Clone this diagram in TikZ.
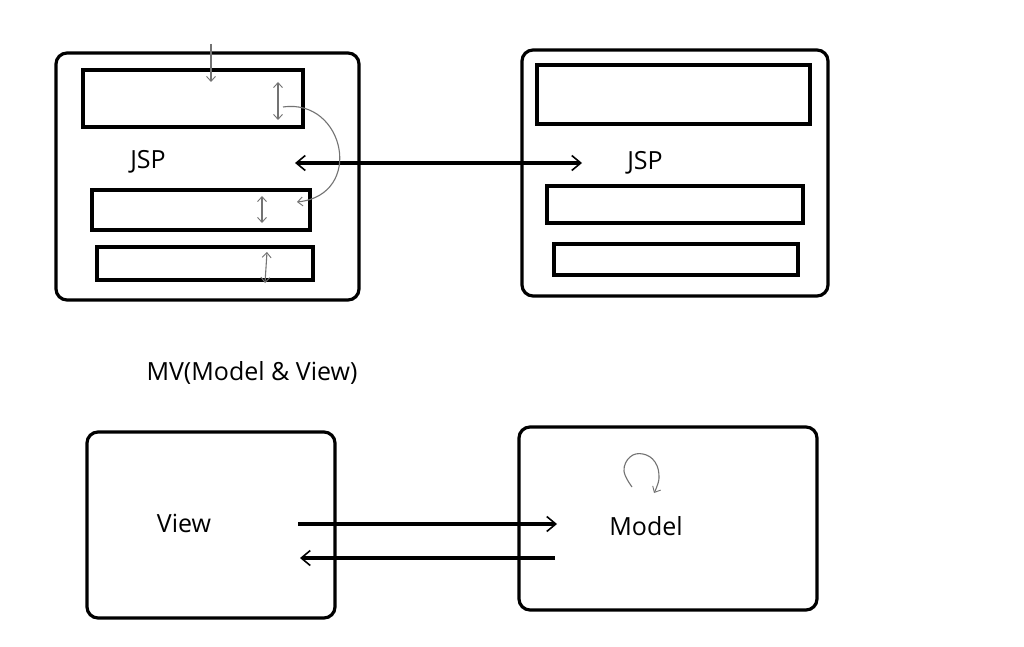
\documentclass[tikz,border=0pt]{standalone}
\usepackage{fontspec}
\setmainfont{Open Sans}
\usetikzlibrary{arrows.meta}
\tikzset{
  sk/.tip={Straight Barb[length=5pt,width=9pt,line width=0.9pt]},
  bg/.tip={Straight Barb[length=9pt,width=15pt,line width=1.6pt]},
  outerbox/.style={draw=black, line width=3.2pt, rounded corners=11pt, anchor=north west, inner sep=0pt, outer sep=0pt},
  innerbox/.style={draw=black, line width=3.8pt, anchor=north west, inner sep=0pt, outer sep=0pt},
  lbl/.style={font=\fontsize{25}{29}\selectfont, text=black},
  mainarrow/.style={line width=3.2pt, -bg},
  sketch/.style={draw=black!55, line width=1.1pt},
}
\begin{document}
\begin{tikzpicture}[x=1pt,y=-1pt]
\useasboundingbox[fill=white] (0,0) rectangle (1024,647);
% top left JSP
\node[outerbox, minimum width=303pt, minimum height=247pt] (jspL) at (56,53) {};
\node[innerbox, minimum width=220pt, minimum height=57pt] (l1) at (83,70) {};
\node[innerbox, minimum width=218pt, minimum height=40pt] (l2) at (92,190) {};
\node[innerbox, minimum width=216pt, minimum height=33pt] (l3) at (97,247) {};
\node[lbl] (jspLt) at (148,162) {JSP};
% top right JSP
\node[outerbox, minimum width=306pt, minimum height=246pt] (jspR) at (522,50) {};
\node[innerbox, minimum width=273pt, minimum height=59pt] (r1) at (537,65) {};
\node[innerbox, minimum width=256pt, minimum height=37pt] (r2) at (547,186) {};
\node[innerbox, minimum width=244pt, minimum height=31pt] (r3) at (554,244) {};
\node[lbl] (jspRt) at (645,163) {JSP};
% connection between JSPs
\coordinate (cl) at (295,163);
\coordinate (cr) at (582,163);
\draw[line width=3.2pt, bg-bg] (cl) -- (cr);
% sketch arrows in left JSP
\coordinate (ta) at (211,44);
\coordinate (tb) at (211,82);
\draw[sketch, -sk] (ta) -- (tb);
\coordinate (d1a) at (278,82);
\coordinate (d1b) at (278,120);
\draw[sketch, sk-sk] (d1a) -- (d1b);
\coordinate (d2a) at (262,196);
\coordinate (d2b) at (262,223);
\draw[sketch, sk-sk] (d2a) -- (d2b);
\coordinate (d3a) at (267,252);
\coordinate (d3b) at (265,283);
\draw[sketch, sk-sk] (d3a) -- (d3b);
\coordinate (cva) at (283,107);
\coordinate (cvb) at (297,202);
\draw[sketch, -sk] (cva) .. controls (345,98) and (365,195) .. (cvb);
% MV label
\node[lbl] (mv) at (252,373) {MV(Model \& View)};
% View and Model
\node[outerbox, minimum width=248pt, minimum height=186pt] (view) at (87,432) {};
\node[lbl] (viewt) at (184,523) {View};
\node[outerbox, minimum width=298pt, minimum height=183pt] (model) at (519,427) {};
\node[lbl] (modelt) at (646,526) {Model};
\coordinate (a1s) at (298,524);
\coordinate (a1e) at (557,524);
\draw[mainarrow] (a1s) -- (a1e);
\coordinate (a2s) at (555,558);
\coordinate (a2e) at (300,558);
\draw[mainarrow] (a2s) -- (a2e);
% loop in Model
\draw[sketch, -sk] plot[smooth, tension=0.7] coordinates {(632,487) (624,471) (630,457) (643,454) (655,462) (659,478) (654,493)};
\end{tikzpicture}
\end{document}
